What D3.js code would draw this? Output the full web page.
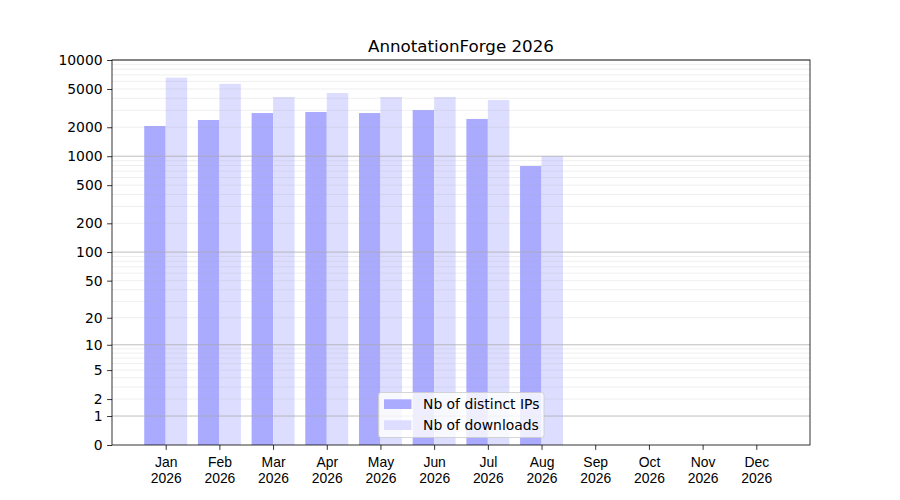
<!DOCTYPE html>
<html><head><meta charset="utf-8">
<script src="https://cdn.jsdelivr.net/npm/d3@7"></script>
<style>body{margin:0;background:#fff}svg{font-family:"DejaVu Sans",sans-serif}</style>
</head><body><svg id="c" width="900" height="500"></svg>
<script>
const months = ["Jan","Feb","Mar","Apr","May","Jun","Jul","Aug","Sep","Oct","Nov","Dec"];
const year = "2026";
const distinctIPs = [2060, 2380, 2810, 2880, 2810, 3020, 2440, 790, null, null, null, null];
const downloads = [6550, 5650, 4130, 4540, 4130, 4130, 3840, 1000, null, null, null, null];
const yTicks = [0,1,2,5,10,20,50,100,200,500,1000,2000,5000,10000];
const majorGrid = [1,10,100,1000,10000];
const minorGrid = [];
[1,10,100,1000].forEach(d=>{for(let k=2;k<=9;k++) minorGrid.push(d*k);});

const svg = d3.select("#c");
const L=112,R=810,T=60,B=445;
const x = d3.scaleLinear().domain([-1,12]).range([L,R]);
const y = d3.scaleSymlog().constant(1).domain([0,10000]).range([B,T]);
const w = 0.4;
const FS = "13.9px";

const bars = svg.append("g");
bars.selectAll("rect.ip").data(distinctIPs.map((v,i)=>({v,i})).filter(d=>d.v!=null)).join("rect")
  .attr("x",d=>x(d.i-w)).attr("width",d=>x(w)-x(0)).attr("y",d=>y(d.v)).attr("height",d=>B-y(d.v)).attr("fill","#aaaaff");
bars.selectAll("rect.dl").data(downloads.map((v,i)=>({v,i})).filter(d=>d.v!=null)).join("rect")
  .attr("x",d=>x(d.i)).attr("width",d=>x(w)-x(0)).attr("y",d=>y(d.v)).attr("height",d=>B-y(d.v)).attr("fill","#ddddff");

const grid = svg.append("g");
grid.selectAll("line.mi").data(minorGrid).join("line")
  .attr("x1",L).attr("x2",R).attr("y1",d=>y(d)).attr("y2",d=>y(d))
  .attr("stroke","#b0b0b0").attr("stroke-opacity",0.25).attr("stroke-width",0.8);
grid.selectAll("line.ma").data(majorGrid).join("line")
  .attr("x1",L).attr("x2",R).attr("y1",d=>y(d)).attr("y2",d=>y(d))
  .attr("stroke","#a8a8a8").attr("stroke-opacity",0.85).attr("stroke-width",0.9);

// axes
const yAxis = d3.axisLeft(y).tickValues(yTicks).tickFormat(d3.format("d")).tickSize(4.9).tickPadding(4.5);
const gy = svg.append("g").attr("transform",`translate(${L},0)`).call(yAxis);
gy.select(".domain").remove();
gy.selectAll("text").attr("font-size",FS).attr("fill","#000").attr("font-family","DejaVu Sans");
gy.selectAll("line").attr("stroke","#000").attr("stroke-width",0.8);

const xAxis = d3.axisBottom(x).tickValues(d3.range(12)).tickFormat("").tickSize(4.9);
const gx = svg.append("g").attr("transform",`translate(0,${B})`).call(xAxis);
gx.select(".domain").remove();
gx.selectAll("line").attr("stroke","#000").attr("stroke-width",0.8);
gx.selectAll(".tick").each(function(d){
  const t = d3.select(this).append("text").attr("fill","#000").attr("font-size",FS).attr("text-anchor","middle");
  t.append("tspan").attr("x",0).attr("y",22).text(months[d]);
  t.append("tspan").attr("x",0).attr("y",38).text(year);
});

svg.append("rect").attr("x",L).attr("y",T).attr("width",R-L).attr("height",B-T)
  .attr("fill","none").attr("stroke","#000").attr("stroke-width",0.8);

svg.append("text").attr("x",(L+R)/2).attr("y",52).attr("text-anchor","middle")
  .attr("font-size","16.7px").attr("fill","#000").text("AnnotationForge 2026");

// legend
const lg = svg.append("g");
lg.append("rect").attr("x",378.5).attr("y",392.5).attr("width",165.5).attr("height",45).attr("rx",2.5)
  .attr("fill","#fff").attr("fill-opacity",0.8).attr("stroke","#cccccc").attr("stroke-opacity",0.8);
const items = [["Nb of distinct IPs","#aaaaff"],["Nb of downloads","#ddddff"]];
items.forEach((it,i)=>{
  const cy = 404 + i*21;
  lg.append("rect").attr("x",384).attr("y",cy-4.7).attr("width",27.5).attr("height",9.7).attr("fill",it[1]);
  lg.append("text").attr("x",423).attr("y",cy+5).attr("font-size",FS).attr("fill","#000").text(it[0]);
});
</script></body></html>
